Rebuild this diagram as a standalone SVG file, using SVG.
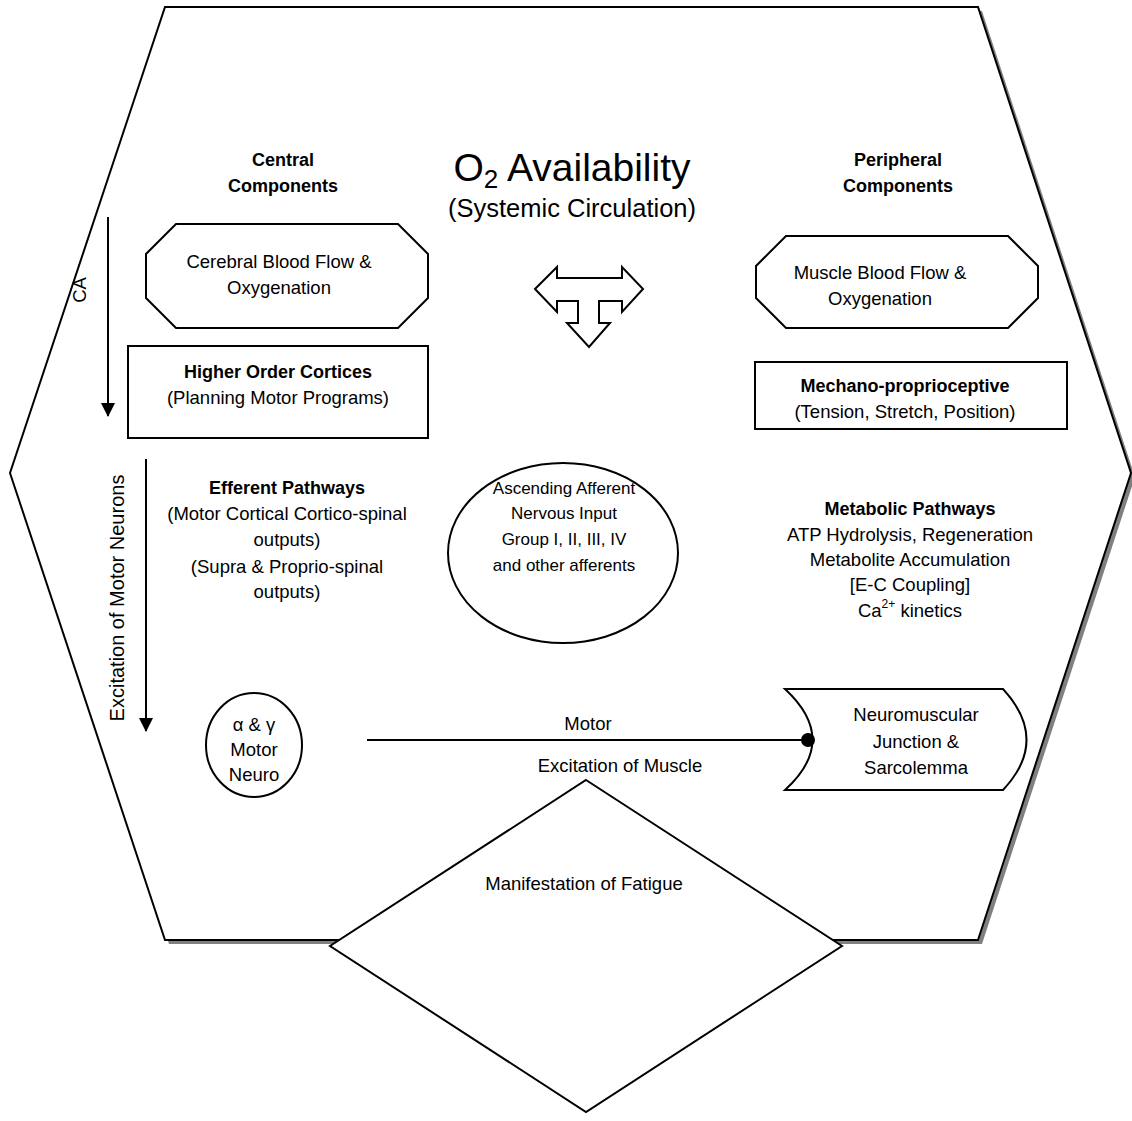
<svg xmlns="http://www.w3.org/2000/svg" width="1132" height="1121" viewBox="0 0 1132 1121">
<style>
text{font-family:"Liberation Sans",Arial,sans-serif;font-size:18.5px;fill:#000;text-anchor:middle}
.b{font-weight:bold;font-size:18px}
.e{font-size:17px}
.s{fill:#fff;stroke:#000;stroke-width:2}
.ln{stroke:#000;stroke-width:2;fill:none}
</style>
<defs>
<marker id="ah2" viewBox="0 0 14 14" refX="13" refY="7" markerWidth="14" markerHeight="14" markerUnits="userSpaceOnUse" orient="auto">
<path d="M0,0 L14,7 L0,14 z" fill="#000"/>
</marker>
</defs>
<rect width="1132" height="1121" fill="#fff"/>
<g id="hexagon">
<polygon points="169,11 982,11 1135,477 982,944 169,944 14,477" fill="#808080"/>
<polygon class="s" points="165,7 978,7 1131,473 978,940 165,940 10,473"/>
</g>
<g id="fatigue">
<polygon class="s" points="586,780 842,946 586,1112 330,946"/>
<text x="584" y="890">Manifestation of Fatigue</text>
</g>
<g id="title">
<text x="572" y="181" style="font-size:39px">O<tspan dy="7" style="font-size:26px">2</tspan><tspan dy="-7"> Availability</tspan></text>
<text x="572" y="217" style="font-size:25.5px">(Systemic Circulation)</text>
</g>
<g id="central-label">
<text class="b" x="283" y="166">Central</text>
<text class="b" x="283" y="192">Components</text>
</g>
<g id="peripheral-label">
<text class="b" x="898" y="166">Peripheral</text>
<text class="b" x="898" y="192">Components</text>
</g>
<g id="cerebral">
<polygon class="s" points="176,224 398,224 428,254 428,298 398,328 176,328 146,298 146,254"/>
<text x="279" y="268">Cerebral Blood Flow &amp;</text>
<text x="279" y="294">Oxygenation</text>
</g>
<g id="muscle-blood">
<polygon class="s" points="786,236 1008,236 1038,266 1038,298 1008,328 786,328 756,298 756,266"/>
<text x="880" y="279">Muscle Blood Flow &amp;</text>
<text x="880" y="305">Oxygenation</text>
</g>
<g id="cortices">
<rect class="s" x="128" y="346" width="300" height="92"/>
<text class="b" x="278" y="378">Higher Order Cortices</text>
<text x="278" y="404">(Planning Motor Programs)</text>
</g>
<g id="mechano">
<rect class="s" x="755" y="362" width="312" height="67"/>
<text class="b" x="905" y="392">Mechano-proprioceptive</text>
<text x="905" y="418">(Tension, Stretch, Position)</text>
</g>
<g id="t-arrow">
<polygon class="s" points="535,289 557,267 557,278 622,278 622,267 643,289 622,312 622,301 599,301 599,323 610,323 589,347 567,323 578,323 578,301 557,301 557,312"/>
</g>
<g id="efferent">
<text class="b" x="287" y="494">Efferent Pathways</text>
<text x="287" y="520">(Motor Cortical Cortico-spinal</text>
<text x="287" y="546">outputs)</text>
<text x="287" y="573">(Supra &amp; Proprio-spinal</text>
<text x="287" y="598">outputs)</text>
</g>
<g id="afferent">
<ellipse class="s" cx="563" cy="553" rx="115" ry="90"/>
<text class="e" x="564" y="494">Ascending Afferent</text>
<text class="e" x="564" y="519">Nervous Input</text>
<text class="e" x="564" y="545">Group I, II, III, IV</text>
<text class="e" x="564" y="571">and other afferents</text>
</g>
<g id="metabolic">
<text class="b" x="910" y="515">Metabolic Pathways</text>
<text x="910" y="541">ATP Hydrolysis, Regeneration</text>
<text x="910" y="566">Metabolite Accumulation</text>
<text x="910" y="591">[E-C Coupling]</text>
<text x="910" y="617">Ca<tspan dy="-9" style="font-size:12px">2+</tspan><tspan dy="9"> kinetics</tspan></text>
</g>
<g id="motor-neuron">
<ellipse class="s" cx="254" cy="745" rx="48" ry="52"/>
<text x="254" y="731">α &amp; γ</text>
<text x="254" y="756">Motor</text>
<text x="254" y="781">Neuro</text>
</g>
<g id="nmj">
<path class="s" d="M785,689 L1003,689 Q1050,740 1003,790 L785,790 Q840,740 785,689 Z"/>
<text x="916" y="721">Neuromuscular</text>
<text x="916" y="748">Junction &amp;</text>
<text x="916" y="774">Sarcolemma</text>
</g>
<g id="connectors">
<line class="ln" x1="108" y1="217" x2="108" y2="416" marker-end="url(#ah2)"/>
<text transform="translate(86,290) rotate(-90)">CA</text>
<line class="ln" x1="146" y1="459" x2="146" y2="731" marker-end="url(#ah2)"/>
<text transform="translate(124,598) rotate(-90)" style="font-size:20px">Excitation of Motor Neurons</text>
<line class="ln" x1="367" y1="740" x2="808" y2="740"/>
<circle cx="808" cy="740" r="7" fill="#000"/>
<text x="588" y="730">Motor</text>
<text x="620" y="772">Excitation of Muscle</text>
</g>
</svg>
